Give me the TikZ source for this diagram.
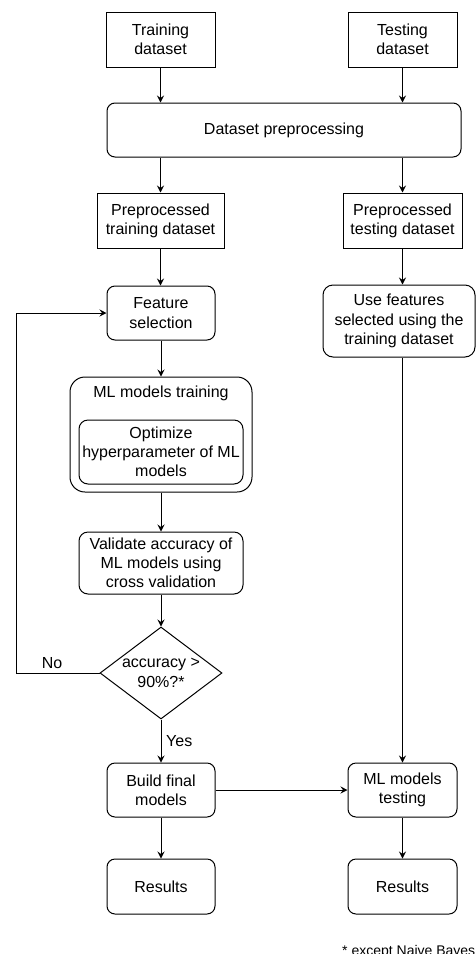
\documentclass[tikz,border=0pt]{standalone}
\usepackage{fontspec}
\setmainfont{Liberation Sans}
\usetikzlibrary{arrows.meta,shapes.geometric}

\begin{document}
\begin{tikzpicture}[x=1pt,y=-1pt,
  font=\fontsize{16}{19.2}\selectfont,
  box/.style={draw=black, line width=1pt, align=center, inner sep=2pt, fill=white},
  rbox/.style={box, rounded corners=8pt},
  arr/.style={draw=black, line width=1pt, -{Stealth[length=7pt,width=7pt,inset=2.5pt]}},
  lbl/.style={inner sep=0pt}
]
\clip (0,0) rectangle (476,954);
\fill[white] (0,0) rectangle (476,954);

% input data
\node[box, minimum width=109pt, minimum height=55pt] (train) at (160.5,39.5) {Training\\dataset};
\node[box, minimum width=109pt, minimum height=55pt] (test) at (402.5,39.5) {Testing\\dataset};
\node[rbox, minimum width=354pt, minimum height=54pt] (prep) at (284,130) {Dataset preprocessing};

% preprocessed sets
\node[box, minimum width=127pt, minimum height=55pt] (ptrain) at (160.5,220.5) {Preprocessed\\training dataset};
\node[box, minimum width=119pt, minimum height=55pt] (ptest) at (402.5,220.5) {Preprocessed\\testing dataset};

% training branch
\node[rbox, minimum width=108pt, minimum height=54pt] (fsel) at (161,313) {Feature\\selection};
\node[box, rounded corners=15pt, minimum width=182pt, minimum height=115pt] (outer) at (161,434.5) {};
\node[lbl] (outertext) at (161,393) {ML models training};
\node[rbox, rounded corners=9pt, minimum width=164pt, minimum height=64pt] (inner) at (161,452) {Optimize\\hyperparameter of ML\\models};
\node[rbox, rounded corners=9pt, minimum width=164pt, minimum height=62pt] (valid) at (161,563) {Validate accuracy of\\ML models using\\cross validation};
\node[diamond, draw=black, line width=1pt, fill=white, minimum width=122pt, minimum height=92pt, inner sep=0pt] (dia) at (161,673) {};
\node[lbl, align=center] (diatext) at (161,673) {accuracy >\\90\%?*};
\node[rbox, minimum width=108pt, minimum height=54pt] (build) at (161,790) {Build final\\models};
\node[rbox, minimum width=108pt, minimum height=55pt] (res1) at (161,886.5) {Results};

% testing branch
\node[rbox, rounded corners=10pt, minimum width=152pt, minimum height=72pt] (use) at (399,321) {Use features\\selected using the\\training dataset};
\node[rbox, minimum width=109pt, minimum height=54pt] (mtest) at (402.5,790) {ML models\\testing};
\node[rbox, minimum width=109pt, minimum height=55pt] (res2) at (402.5,886.5) {Results};

% connectors
\draw[arr] (train.south) -- (train.south |- prep.north);
\draw[arr] (test.south) -- (test.south |- prep.north);
\draw[arr] (ptrain.north |- prep.south) -- (ptrain.north);
\draw[arr] (ptest.north |- prep.south) -- (ptest.north);
\draw[arr] (ptrain.south) -- (ptrain.south |- fsel.north);
\draw[arr] (ptest.south) -- (ptest.south |- use.north);
\draw[arr] (fsel.south) -- (fsel.south |- outer.north);
\draw[arr] (outer.south) -- (outer.south |- valid.north);
\draw[arr] (valid.south) -- (dia.north);
\draw[arr] (dia.south) -- (build.north);
\node[lbl, anchor=west] (yes) at (166,741) {Yes};
\coordinate (loopx) at (16,673);
\draw[arr] (dia.west) -- (loopx) |- (fsel.west);
\node[lbl] (no) at (52,663) {No};
\draw[arr] (use.south -| mtest.north) -- (mtest.north);
\draw[arr] (build.east) -- (mtest.west);
\draw[arr] (build.south) -- (res1.north);
\draw[arr] (mtest.south) -- (res2.north);

% footnote
\node[lbl, anchor=base west, font=\fontsize{14}{16}\selectfont] (note) at (342,955) {* except Naive Bayes};
\end{tikzpicture}
\end{document}
